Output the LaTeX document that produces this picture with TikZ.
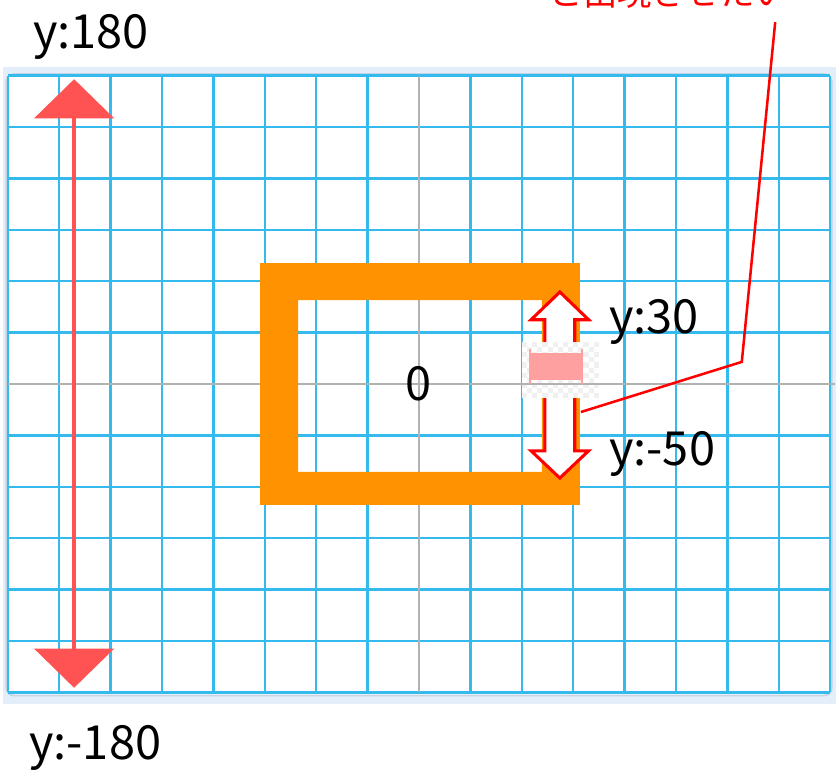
\documentclass[tikz,border=0pt]{standalone}
\usepackage{fontspec}
\setmainfont{Noto Sans CJK JP}
\usepackage{tikz}
\usetikzlibrary{arrows.meta,positioning}

\definecolor{gridblue}{RGB}{52,186,236}
\definecolor{frameblue}{RGB}{227,238,250}
\definecolor{paneledge}{RGB}{197,211,227}
\definecolor{boxorange}{RGB}{255,146,0}
\definecolor{arrowred}{RGB}{255,82,82}
\definecolor{handlepink}{RGB}{255,160,160}

\begin{document}
\begin{tikzpicture}[
    gridline/.style={gridblue, line width=1.4pt},
    axisline/.style={gray!60, line width=1.4pt},
    lbl/.style={anchor=base, inner sep=0pt, font=\fontsize{26}{30}\selectfont},
    note/.style={anchor=base, inner sep=0pt, red, font=\fontsize{19}{23}\selectfont},
    bigarrow/.style={{Triangle[length=7.6mm,width=15.4mm]}-{Triangle[length=7.6mm,width=15.4mm]}, arrowred, line width=2.2pt},
    checker/.style={fill=gray!12},
    callout/.style={red, line width=1.4pt}
]
\useasboundingbox (-8.152,-7.549) rectangle (8.113,7.471);

% Frame and panel
\fill[frameblue] (-8.09,-6.23) rectangle (8.113,6.17);
\draw[paneledge, fill=white, line width=1pt, rounded corners=0.15cm] (-8.03,-6.06) rectangle (8.03,6.03);

% Grid
\foreach \i in {-8,...,8}
    \draw[gridline] (\i,-6) -- (\i,6);
\foreach \j in {-6,...,6}
    \draw[gridline] (-8,\j) -- (8,\j);
\draw[axisline] (0,-6) -- (0,6);
\draw[axisline] (-8,0) -- (8.1,0);

% Range arrow on left
\coordinate (ytop) at (-6.71,5.93);
\coordinate (ybot) at (-6.71,-5.91);
\draw[bigarrow] (ytop) -- (ybot);
\node[lbl] (ymax) at (-6.38,6.52) {y:180};
\node[lbl] (ymin) at (-6.30,-7.30) {y:-180};

% Orange box
\fill[boxorange, even odd rule] (-3.09,-2.35) rectangle (3.13,2.35)
    (-2.35,-1.71) rectangle (2.39,1.63);
\node[lbl] (origin) at (0,-0.33) {0};

% Double arrow
\draw[red, fill=white, line width=1.7pt, line join=miter]
    (2.74,1.79) -- (3.30,1.25) -- (3.03,1.25) -- (3.03,-1.30) -- (3.30,-1.30)
    -- (2.74,-1.83) -- (2.18,-1.30) -- (2.45,-1.30) -- (2.45,1.25) -- (2.18,1.25) -- cycle;

% Handle
\fill[white] (2.0,-0.28) rectangle (3.5,0.82);
\foreach \i in {0,...,14}
    \foreach \j in {0,...,10} {
        \pgfmathtruncatemacro\odd{mod(\i+\j,2)}
        \ifnum\odd=0 \fill[checker] ({2+0.1*\i},{-0.28+0.1*\j}) rectangle ++(0.1,0.1); \fi
    }
\draw[axisline] (2.0,0) -- (3.5,0);
\fill[handlepink] (2.14,0.08) rectangle (3.19,0.60);
\fill[handlepink] (2.14,0) rectangle (2.18,0.68);
\fill[handlepink] (3.15,0) rectangle (3.19,0.68);

\node[lbl] (ylo) at (4.57,0.99) {y:30};
\node[lbl] (yhi) at (4.73,-1.58) {y:-50};

% Callout
\node[note] (msg) at (4.86,7.37) {と出現させたい};
\coordinate (c0) at (3.15,-0.545);
\coordinate (c1) at (6.28,0.43);
\coordinate (c2) at (6.93,7.04);
\draw[callout] (c0) -- (c1) -- (c2);
\end{tikzpicture}
\end{document}
